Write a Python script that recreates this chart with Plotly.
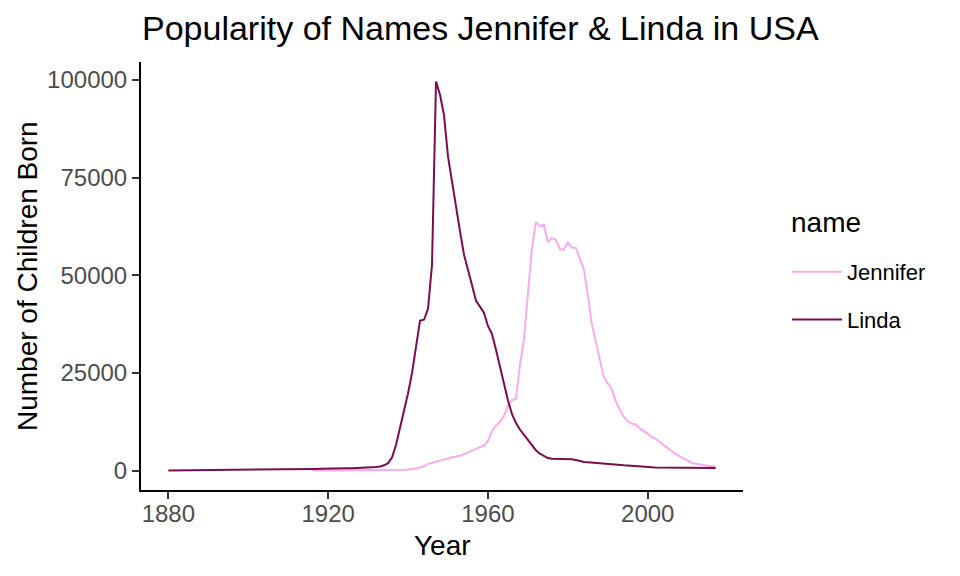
import plotly.graph_objects as go

# ---- data ----
linda_years = list(range(1880, 2018))
linda_counts = [
    27, 38, 36, 49, 33, 60, 50, 54, 56, 62,          # 1880-1889
    64, 58, 71, 72, 78, 82, 80, 75, 90, 72,          # 1890-1899
    105, 85, 95, 100, 110, 115, 120, 130, 140, 150,  # 1900-1909
    170, 190, 230, 260, 310, 380, 400, 420, 450, 440,  # 1910-1919
    480, 500, 500, 520, 560, 560, 580, 620, 650, 650,  # 1920-1929
    700, 760, 900, 1050, 1350, 1900, 3400, 6600, 10800, 15500,  # 1930-1939
    19800, 25000, 31500, 38400, 38600, 41400, 52700, 99600, 96200, 91000,  # 1940-1949
    80400, 73900, 67000, 61300, 55300, 51000, 47500, 43500, 42000, 40400,  # 1950-1959
    37000, 35000, 31000, 26700, 22000, 18000, 14500, 12200, 10500, 9200,   # 1960-1969
    8000, 6500, 5200, 4300, 3700, 3200, 3000, 3000, 3000, 3000,            # 1970-1979
    3000, 2900, 2700, 2400, 2200, 2100, 2000, 1900, 1800, 1800,            # 1980-1989
    1700, 1600, 1500, 1400, 1350, 1300, 1200, 1100, 1000, 950,             # 1990-1999
    900, 850, 800, 800, 780, 750, 720, 700, 690, 680,                      # 2000-2009
    680, 670, 670, 660, 660, 650, 650, 640,                                # 2010-2017
]

jennifer_years = list(range(1916, 2018))
jennifer_counts = [
    5, 5, 10, 8,                                          # 1916-1919
    10, 12, 10, 15, 20, 18, 20, 25, 25, 30,               # 1920-1929
    30, 30, 40, 40, 60, 80, 90, 110, 140, 180,            # 1930-1939
    250, 350, 550, 800, 1100, 1700, 2000, 2200, 2500, 3000,  # 1940-1949
    3200, 3400, 3600, 3800, 4200, 4600, 5000, 5500, 6000, 6400,  # 1950-1959
    7600, 10000, 11500, 12400, 14000, 16500, 18000, 18300, 27000, 33500,  # 1960-1969
    46000, 56800, 63600, 62600, 62900, 58500, 59500, 59100, 56700, 56500,  # 1970-1979
    58400, 57100, 57000, 54500, 51500, 45000, 37500, 33000, 28200, 23900,  # 1980-1989
    22300, 20800, 17800, 15500, 13800, 12600, 12000, 11800, 10800, 10200,  # 1990-1999
    9400, 8600, 8100, 7300, 6500, 5600, 5000, 4200, 3600, 3000,            # 2000-2009
    2400, 2000, 1750, 1550, 1350, 1250, 1150, 1050,                        # 2010-2017
]

x_ticks = [1880, 1920, 1960, 2000]
y_ticks = [0, 25000, 50000, 75000, 100000]

FONT = "Liberation Sans, Arial, sans-serif"
W, H = 960, 576
OFF = 8  # page body margin shifts the figure by this many pixels
L, T, PW, PH = 141 - OFF, 62 - OFF, 602, 428

fig = go.Figure()
fig.add_trace(go.Scatter(
    x=jennifer_years, y=jennifer_counts, mode="lines", name="Jennifer",
    legendgroup="Jennifer",
    line=dict(color="#FCA9EE", width=2),
))
fig.add_trace(go.Scatter(
    x=linda_years, y=linda_counts, mode="lines", name="Linda",
    legendgroup="Linda",
    line=dict(color="#7B0C4F", width=2),
))

ymax = max(linda_counts)
ypad = 0.05 * ymax
xpad = 0.05 * (2017 - 1880)

def px(x):
    return (x - OFF) / W

def py(y):
    return 1 - (y - OFF) / H

fig.update_layout(
    width=W, height=H,
    paper_bgcolor="white", plot_bgcolor="white",
    margin=dict(l=L, r=W - L - PW, t=T, b=H - T - PH, autoexpand=False),
    font=dict(family=FONT, color="black"),
    title=dict(
        text="Popularity of Names Jennifer & Linda in USA",
        x=px(142), xanchor="left", xref="container",
        y=py(28), yanchor="middle", yref="container",
        font=dict(size=34, color="black"),
    ),
    xaxis=dict(
        range=[1880 - xpad, 2017 + xpad],
        tickvals=x_ticks, ticktext=[str(v) for v in x_ticks],
        showgrid=False, zeroline=False, automargin=False,
        showline=True, linecolor="black", linewidth=2,
        ticks="outside", ticklen=7, tickwidth=2, tickcolor="#333333",
        tickfont=dict(size=24, color="#4D4D4D"),
        ticklabelposition="outside", ticklabelstandoff=-6,
    ),
    yaxis=dict(
        range=[-ypad, ymax + ypad],
        tickvals=y_ticks, ticktext=[str(v) for v in y_ticks],
        showgrid=False, zeroline=False, automargin=False,
        showline=True, linecolor="black", linewidth=2,
        ticks="outside", ticklen=7, tickwidth=2, tickcolor="#333333",
        tickfont=dict(size=24, color="#4D4D4D"),
    ),
    legend=dict(
        font=dict(size=22, color="black"),
        x=px(787), xref="container", xanchor="left",
        y=py(296), yref="container", yanchor="middle",
        tracegroupgap=16,
        itemwidth=50,
        bgcolor="rgba(0,0,0,0)",
    ),
    annotations=[
        dict(text="name", xref="paper", yref="paper",
             x=(789 - OFF - L) / PW, xanchor="left",
             y=1 - (223 - OFF - T) / PH, yanchor="middle",
             showarrow=False, font=dict(size=28, color="black")),
        dict(text="Year", xref="paper", yref="paper",
             x=(442 - OFF - L) / PW, xanchor="center",
             y=1 - (545 - OFF - T) / PH, yanchor="middle",
             showarrow=False, font=dict(size=28, color="black")),
        dict(text="Number of Children Born", xref="paper", yref="paper",
             x=(27 - OFF - L) / PW, xanchor="center",
             y=1 - (276 - OFF - T) / PH, yanchor="middle",
             textangle=-90,
             showarrow=False, font=dict(size=28, color="black")),
    ],
    showlegend=True,
)

fig.write_html("out.html")
